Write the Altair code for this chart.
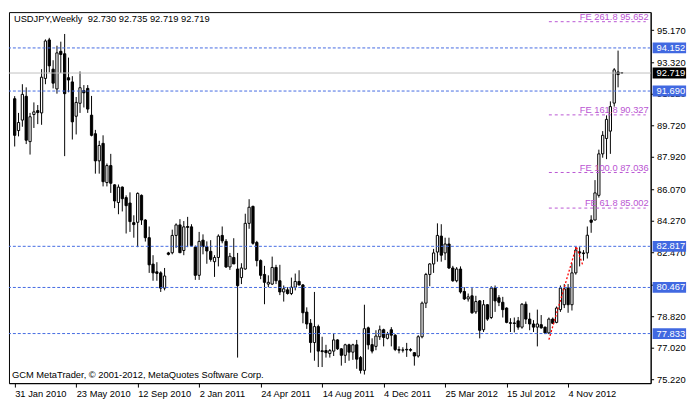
import altair as alt
import pandas as pd

# Weekly USDJPY candles, first bar week of 31 Jan 2010
OPEN = [91.25, 89.43, 90.03, 91.39, 88.80, 90.35, 90.57, 90.44, 92.41, 94.61,
        92.94, 91.81, 93.96, 93.82, 92.45, 92.21, 90.25, 90.99, 91.72, 91.84,
        90.31, 89.25, 87.70, 88.70, 86.46, 87.43, 86.33, 85.32, 86.20, 85.60,
        85.29, 84.17, 84.19, 85.73, 84.32, 83.31, 81.80, 81.36, 81.30, 80.43,
        82.44, 82.45, 83.44, 84.04, 82.58, 83.95, 83.93, 82.77, 81.16, 83.17,
        82.80, 82.53, 81.94, 82.18, 83.44, 83.10, 81.64, 82.18, 81.52, 81.03,
        81.52, 84.13, 85.10, 83.04, 82.00, 81.21, 80.66, 80.66, 81.61, 80.85,
        80.21, 80.33, 80.12, 80.48, 80.81, 80.61, 79.06, 78.42, 77.32, 78.23,
        76.85, 76.86, 76.69, 76.83, 77.47, 76.96, 76.59, 77.19, 76.77, 77.19,
        76.46, 75.73, 78.16, 77.20, 77.10, 77.65, 78.05, 77.56, 78.05, 77.74,
        76.92, 76.88, 76.93, 76.92, 76.74, 76.55, 77.65, 79.57, 81.21, 81.81,
        82.49, 83.40, 82.44, 82.95, 81.58, 80.85, 81.52, 80.24, 79.81, 79.99,
        79.07, 79.70, 78.05, 79.48, 78.75, 80.43, 79.88, 79.62, 79.29, 78.45,
        78.44, 78.56, 78.20, 79.51, 78.66, 78.38, 78.20, 78.34, 78.20, 77.87,
        78.66, 78.47, 79.20, 79.48, 80.43, 79.48, 81.30, 82.50, 82.44, 82.44,
        84.32, 84.32, 85.73, 88.10, 88.98, 89.40, 91.00, 92.78, 92.730]
HIGH = [91.40, 90.44, 92.08, 91.90, 90.44, 91.04, 90.89, 92.94, 94.64, 94.73,
        93.45, 94.28, 94.51, 94.95, 93.60, 92.54, 91.35, 92.81, 92.03, 92.03,
        91.41, 89.47, 88.85, 89.16, 87.55, 88.10, 86.36, 86.35, 86.24, 85.73,
        85.90, 84.59, 85.90, 85.78, 84.37, 83.95, 82.31, 81.91, 81.39, 81.58,
        82.50, 83.77, 84.13, 84.37, 84.26, 84.50, 84.08, 82.86, 83.64, 83.50,
        83.10, 83.17, 82.31, 83.50, 83.95, 83.23, 82.44, 83.28, 82.44, 81.85,
        84.68, 85.51, 85.14, 83.13, 82.07, 81.70, 81.16, 82.23, 81.76, 81.76,
        80.58, 80.48, 81.03, 81.26, 81.45, 80.66, 79.33, 78.66, 80.21, 78.34,
        77.65, 77.19, 76.95, 77.84, 77.50, 77.00, 77.25, 77.25, 77.25, 77.47,
        76.55, 79.48, 78.23, 77.56, 78.02, 78.29, 78.11, 77.93, 78.20, 77.80,
        77.10, 77.05, 77.30, 77.00, 76.77, 77.74, 79.66, 81.30, 81.85, 82.67,
        84.13, 84.08, 83.31, 83.31, 81.70, 81.63, 81.67, 80.48, 80.12, 80.43,
        79.99, 79.75, 79.75, 79.51, 80.54, 80.58, 80.03, 79.93, 79.33, 78.71,
        78.75, 78.78, 79.57, 79.66, 79.02, 78.60, 79.20, 78.89, 78.23, 78.75,
        78.75, 79.38, 80.58, 80.66, 80.66, 81.85, 82.80, 82.77, 82.60, 83.95,
        84.59, 86.60, 88.34, 89.40, 90.30, 91.10, 93.00, 94.00, 92.735]
LOW = [88.52, 89.10, 89.65, 88.66, 88.06, 89.58, 89.80, 89.76, 92.08, 92.76,
       91.84, 91.54, 92.72, 87.97, 91.62, 88.92, 89.21, 90.44, 90.75, 90.44,
       89.10, 86.97, 86.97, 86.24, 86.24, 85.87, 85.00, 84.65, 84.81, 83.55,
       83.64, 83.31, 82.77, 84.04, 83.09, 81.30, 80.85, 80.85, 80.21, 80.30,
       82.30, 82.36, 82.73, 82.45, 82.31, 82.77, 82.80, 80.90, 80.90, 82.36,
       81.82, 81.94, 81.07, 81.67, 82.99, 81.58, 81.47, 81.81, 76.46, 80.66,
       81.48, 83.82, 82.91, 81.67, 80.94, 79.51, 80.48, 80.61, 80.66, 80.03,
       79.66, 80.06, 80.03, 80.30, 80.58, 78.42, 78.10, 76.74, 76.28, 75.92,
       75.92, 76.46, 76.46, 76.55, 76.90, 76.00, 76.15, 76.28, 76.33, 75.82,
       75.55, 75.49, 76.92, 76.70, 76.88, 77.47, 77.10, 77.50, 77.10, 76.83,
       76.70, 76.75, 76.50, 76.80, 76.00, 76.46, 77.56, 79.29, 80.54, 81.30,
       81.94, 81.94, 82.03, 81.52, 80.79, 80.76, 80.12, 79.75, 79.66, 78.96,
       78.96, 77.56, 77.92, 78.56, 78.66, 79.07, 79.40, 78.75, 78.42, 77.92,
       77.90, 78.05, 78.11, 78.38, 78.02, 77.92, 77.10, 78.11, 77.80, 77.80,
       78.38, 78.42, 79.07, 79.29, 79.02, 79.15, 81.20, 81.67, 82.00, 82.12,
       83.59, 84.30, 85.60, 87.88, 87.80, 88.10, 90.80, 91.90, 92.719]
CLOSE = [89.16, 89.89, 91.50, 88.88, 90.22, 90.50, 90.46, 92.48, 94.55, 93.13,
         92.14, 93.87, 93.78, 91.54, 92.32, 89.93, 91.04, 91.88, 91.59, 90.66,
         89.16, 87.70, 88.58, 86.51, 87.43, 86.42, 85.41, 86.20, 85.54, 85.14,
         84.23, 84.06, 85.84, 84.32, 83.31, 81.76, 81.30, 81.27, 80.43, 81.12,
         82.36, 83.44, 84.04, 82.45, 83.93, 83.90, 82.86, 81.16, 83.10, 82.80,
         82.55, 82.07, 82.18, 83.40, 83.13, 81.64, 82.25, 81.81, 80.57, 81.58,
         84.13, 85.05, 82.99, 82.00, 81.16, 80.76, 80.76, 81.61, 80.85, 80.21,
         80.39, 80.12, 80.48, 80.81, 80.61, 79.02, 78.38, 77.32, 78.23, 76.83,
         76.80, 76.74, 76.86, 77.47, 76.96, 76.59, 77.19, 76.77, 77.19, 76.37,
         75.73, 78.11, 77.19, 76.83, 77.69, 78.05, 77.61, 77.80, 77.74, 76.92,
         76.88, 76.90, 76.90, 76.88, 76.55, 77.65, 79.57, 81.21, 81.81, 82.44,
         83.44, 82.31, 82.95, 81.58, 80.85, 81.52, 80.21, 79.81, 79.93, 79.02,
         79.66, 78.02, 79.48, 78.66, 80.43, 79.70, 79.62, 79.20, 78.47, 78.42,
         78.41, 78.20, 79.51, 78.66, 78.38, 78.20, 78.38, 78.16, 77.87, 78.66,
         78.42, 79.29, 80.43, 80.39, 79.48, 81.30, 82.60, 82.44, 82.40, 83.45,
         84.19, 85.87, 88.10, 89.16, 90.07, 90.80, 92.90, 92.63, 92.719]

H_LEVELS = [94.152, 91.690, 82.817, 80.467, 77.833]
CURRENT = 92.719
Y_TICKS = [75.22, 77.02, 78.82, 80.62, 82.47, 84.27, 86.07, 87.92, 89.72, 91.52, 93.32, 95.17]
FE_LEVELS = [95.652, 90.327, 87.036, 85.002]
FE_LABELS = ["FE 261.8 95.652", "FE 161.8 90.327", "FE 100.0 87.036", "FE 61.8 85.002"]
FE_START = "2012-09-30"
FE_END = "2013-03-25T10:00:00Z"
TREND_DATES = ["2012-09-30", "2012-11-19", "2012-12-01"]
TREND_PRICES = [77.487, 82.812, 81.711]
X_TICK_DATES = [(2010, 1, 31), (2010, 5, 23), (2010, 9, 12), (2011, 1, 2), (2011, 4, 24),
                (2011, 8, 14), (2011, 12, 4), (2012, 3, 25), (2012, 7, 15), (2012, 11, 4)]

W, H = 652, 377
FONT = "Liberation Sans"
FS = 9.5
BLUE = "#4169E1"
FE_COLOR = "#BA55D3"

dates = pd.date_range("2010-01-31", periods=len(OPEN), freq="7D").strftime("%Y-%m-%d").tolist()
df = pd.DataFrame({"date": dates, "open": OPEN, "high": HIGH, "low": LOW, "close": CLOSE})

x_scale = alt.Scale(type="utc", domain=[alt.DateTime(year=2010, month=1, date=29, hours=14, utc=True),
                                        alt.DateTime(year=2013, month=3, date=25, hours=10, utc=True)])
x_axis = alt.Axis(values=[alt.DateTime(year=y, month=m, date=d, utc=True) for y, m, d in X_TICK_DATES],
                  format="%-d %b %Y", labelAlign="left", labelPadding=2, tickSize=4,
                  labelFlush=False, labelOverlap=False, grid=False, domainColor="black",
                  tickColor="black", labelColor="black", labelFont=FONT, labelFontSize=FS,
                  title=None)
y_scale = alt.Scale(domain=[75.0, 96.2], zero=False, nice=False)
y_axis = alt.Axis(orient="right", values=Y_TICKS, format=".3f", tickSize=3, labelPadding=3,
                  grid=False, domainColor="black", tickColor="black", labelColor="black",
                  labelFont=FONT, labelFontSize=FS, title=None)


def X(field):
    return alt.X(field, scale=x_scale, axis=x_axis, title=None)


def Y(field):
    return alt.Y(field, scale=y_scale, axis=y_axis, title=None)


base = alt.Chart(df)
wicks = base.mark_rule(color="black", strokeWidth=1).encode(x=X("date:T"), y=Y("low:Q"), y2="high:Q")
bodies = base.mark_bar(size=2.3, stroke="black", strokeWidth=1).encode(
    x=X("date:T"), y=Y("open:Q"), y2="close:Q",
    fill=alt.condition(alt.datum.close >= alt.datum.open, alt.value("white"), alt.value("black")))

hl = alt.Chart(pd.DataFrame({"level": H_LEVELS})).mark_rule(
    color=BLUE, strokeDash=[3, 2], strokeWidth=1).encode(y=Y("level:Q"))
cur = alt.Chart(pd.DataFrame({"level": [CURRENT]})).mark_rule(
    color="#C0C0C0", strokeWidth=1).encode(y=Y("level:Q"))

fe_df = pd.DataFrame({"level": FE_LEVELS, "label": FE_LABELS,
                      "start": [FE_START] * len(FE_LEVELS), "end": [FE_END] * len(FE_LEVELS)})
fe_lines = alt.Chart(fe_df).mark_rule(color=FE_COLOR, strokeDash=[3, 3], strokeWidth=1).encode(
    x=X("start:T"), x2="end:T", y=Y("level:Q"))
fe_text = alt.Chart(fe_df).mark_text(align="right", baseline="alphabetic", dy=-2, color=FE_COLOR,
                                     font=FONT, fontSize=FS).encode(
    x=alt.value(W - 2), y=Y("level:Q"), text="label:N")

trend = alt.Chart(pd.DataFrame({"d": TREND_DATES, "p": TREND_PRICES, "seq": [0, 1, 2]})).mark_line(
    color="red", strokeDash=[2, 2], strokeWidth=1.3).encode(x=X("d:T"), y=Y("p:Q"), order="seq:Q")

box_df = pd.DataFrame({"level": H_LEVELS + [CURRENT],
                       "txt": [f"{v:.3f}" for v in H_LEVELS + [CURRENT]],
                       "col": [BLUE] * len(H_LEVELS) + ["black"]})
boxes = alt.Chart(box_df).mark_rule(strokeWidth=11, strokeCap="butt").encode(
    x=alt.value(W + 2), x2=alt.value(W + 36),
    y=Y("level:Q"), color=alt.Color("col:N", scale=None))
box_text = alt.Chart(box_df).mark_text(align="left", baseline="middle", color="white",
                                       font=FONT, fontSize=FS).encode(
    x=alt.value(W + 6), y=Y("level:Q"), text="txt:N")

title = alt.Chart(pd.DataFrame({"t": ["USDJPY,Weekly\u00a0\u00a092.730 92.735 92.719 92.719"]})).mark_text(
    align="left", baseline="middle", font=FONT, fontSize=FS, color="black").encode(
    x=alt.value(5), y=alt.value(7), text="t:N")
footer = alt.Chart(pd.DataFrame({"t": ["GCM MetaTrader, © 2001-2012, MetaQuotes Software Corp."]})).mark_text(
    align="left", baseline="middle", font=FONT, fontSize=FS, color="black").encode(
    x=alt.value(3), y=alt.value(H - 8), text="t:N")

chart = alt.layer(wicks, bodies, hl, cur, fe_lines, fe_text, trend, boxes, box_text, title, footer).properties(
    width=W, height=H, background="white", padding=0
).configure_view(stroke="black", strokeWidth=1)

chart.save("out.html", embed_options={"renderer": "svg", "actions": False})
